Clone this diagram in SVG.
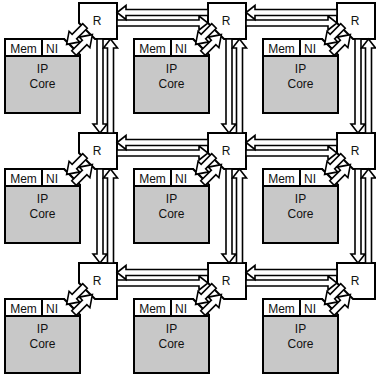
<svg xmlns="http://www.w3.org/2000/svg" xmlns:xlink="http://www.w3.org/1999/xlink" width="376" height="377" viewBox="0 0 376 377">
  <style>
    .router { fill: #fff; stroke: #000; stroke-width: 2; }
    .core { fill: #c8c8c8; stroke: #000; stroke-width: 2; }
    .hdr { fill: #fff; stroke: #000; stroke-width: 2; }
    .lbl { font-family: "Liberation Sans", Arial, sans-serif; font-size: 12px; fill: #111; }
    .mid { text-anchor: middle; }
    #links use { fill: #fff; stroke: #000; stroke-width: 1.6; stroke-linejoin: miter; }
  </style>
  <defs>
    <!-- hollow block arrows pointing along +x -->
    <path id="a91" d="M0,-3 H82 V-7 L91,0 L82,7 V3 H0 Z"/>
    <path id="a94" d="M0,-3 H85 V-7 L94,0 L85,7 V3 H0 Z"/>
    <path id="a26" d="M0,-3.2 H15 V-7.5 L26,0 L15,7.5 V3.2 H0 Z"/>
    <!-- router box with cut lower-left corner -->
    <path id="rbox" d="M0,0 H38 V36 H16 L0,20 Z"/>
    <!-- IP core tile: header strip with cut upper-right corner -->
    <g id="tile">
      <path class="core" d="M0,0 H59 L75,16 V74 H0 Z"/>
      <path class="hdr" d="M0,0 H59 L75,16 V17 H0 Z"/>
      <line x1="37" y1="0" x2="37" y2="17" stroke="#000" stroke-width="2"/>
      <text class="lbl mid" x="18.5" y="14">Mem</text>
      <text class="lbl" x="41" y="14">NI</text>
      <text class="lbl mid" x="37.5" y="34">IP</text>
      <text class="lbl mid" x="37.5" y="49">Core</text>
    </g>
  </defs>

  <!-- routers -->
  <g id="router-1-1"><use xlink:href="#rbox" class="router" x="79" y="3"/><text class="lbl mid" x="97" y="25">R</text></g>
  <g id="router-1-2"><use xlink:href="#rbox" class="router" x="208" y="3"/><text class="lbl mid" x="226" y="25">R</text></g>
  <g id="router-1-3"><use xlink:href="#rbox" class="router" x="337" y="3"/><text class="lbl mid" x="355" y="25">R</text></g>
  <g id="router-2-1"><use xlink:href="#rbox" class="router" x="79" y="133"/><text class="lbl mid" x="97" y="155">R</text></g>
  <g id="router-2-2"><use xlink:href="#rbox" class="router" x="208" y="133"/><text class="lbl mid" x="226" y="155">R</text></g>
  <g id="router-2-3"><use xlink:href="#rbox" class="router" x="337" y="133"/><text class="lbl mid" x="355" y="155">R</text></g>
  <g id="router-3-1"><use xlink:href="#rbox" class="router" x="79" y="263"/><text class="lbl mid" x="97" y="285">R</text></g>
  <g id="router-3-2"><use xlink:href="#rbox" class="router" x="208" y="263"/><text class="lbl mid" x="226" y="285">R</text></g>
  <g id="router-3-3"><use xlink:href="#rbox" class="router" x="337" y="263"/><text class="lbl mid" x="355" y="285">R</text></g>

  <!-- IP cores with memory and network interface -->
  <g id="core-1-1"><use xlink:href="#tile" x="5" y="39"/></g>
  <g id="core-1-2"><use xlink:href="#tile" x="134" y="39"/></g>
  <g id="core-1-3"><use xlink:href="#tile" x="263" y="39"/></g>
  <g id="core-2-1"><use xlink:href="#tile" x="5" y="169"/></g>
  <g id="core-2-2"><use xlink:href="#tile" x="134" y="169"/></g>
  <g id="core-2-3"><use xlink:href="#tile" x="263" y="169"/></g>
  <g id="core-3-1"><use xlink:href="#tile" x="5" y="299"/></g>
  <g id="core-3-2"><use xlink:href="#tile" x="134" y="299"/></g>
  <g id="core-3-3"><use xlink:href="#tile" x="263" y="299"/></g>

  <g id="links">
    <!-- row 1 horizontal -->
    <use xlink:href="#a91" transform="translate(117,23)"/>
    <use xlink:href="#a91" transform="translate(208,12.5) rotate(180)"/>
    <use xlink:href="#a91" transform="translate(246,23)"/>
    <use xlink:href="#a91" transform="translate(337,12.5) rotate(180)"/>
    <!-- row 2 horizontal -->
    <use xlink:href="#a91" transform="translate(117,153)"/>
    <use xlink:href="#a91" transform="translate(208,142.5) rotate(180)"/>
    <use xlink:href="#a91" transform="translate(246,153)"/>
    <use xlink:href="#a91" transform="translate(337,142.5) rotate(180)"/>
    <!-- row 3 horizontal -->
    <use xlink:href="#a91" transform="translate(117,283)"/>
    <use xlink:href="#a91" transform="translate(208,272.5) rotate(180)"/>
    <use xlink:href="#a91" transform="translate(246,283)"/>
    <use xlink:href="#a91" transform="translate(337,272.5) rotate(180)"/>
    <!-- column verticals, rows 1-2 -->
    <use xlink:href="#a94" transform="translate(100,39) rotate(90)"/>
    <use xlink:href="#a94" transform="translate(110.5,133) rotate(-90)"/>
    <use xlink:href="#a94" transform="translate(229,39) rotate(90)"/>
    <use xlink:href="#a94" transform="translate(239.5,133) rotate(-90)"/>
    <use xlink:href="#a94" transform="translate(358,39) rotate(90)"/>
    <use xlink:href="#a94" transform="translate(368.5,133) rotate(-90)"/>
    <!-- column verticals, rows 2-3 -->
    <use xlink:href="#a94" transform="translate(100,169) rotate(90)"/>
    <use xlink:href="#a94" transform="translate(110.5,263) rotate(-90)"/>
    <use xlink:href="#a94" transform="translate(229,169) rotate(90)"/>
    <use xlink:href="#a94" transform="translate(239.5,263) rotate(-90)"/>
    <use xlink:href="#a94" transform="translate(358,169) rotate(90)"/>
    <use xlink:href="#a94" transform="translate(368.5,263) rotate(-90)"/>
    <!-- router to network interface, both ways -->
    <use xlink:href="#a26" transform="translate(85,26) rotate(135)"/>
    <use xlink:href="#a26" transform="translate(74,53) rotate(-45)"/>
    <use xlink:href="#a26" transform="translate(214,26) rotate(135)"/>
    <use xlink:href="#a26" transform="translate(203,53) rotate(-45)"/>
    <use xlink:href="#a26" transform="translate(343,26) rotate(135)"/>
    <use xlink:href="#a26" transform="translate(332,53) rotate(-45)"/>
    <use xlink:href="#a26" transform="translate(85,156) rotate(135)"/>
    <use xlink:href="#a26" transform="translate(74,183) rotate(-45)"/>
    <use xlink:href="#a26" transform="translate(214,156) rotate(135)"/>
    <use xlink:href="#a26" transform="translate(203,183) rotate(-45)"/>
    <use xlink:href="#a26" transform="translate(343,156) rotate(135)"/>
    <use xlink:href="#a26" transform="translate(332,183) rotate(-45)"/>
    <use xlink:href="#a26" transform="translate(85,286) rotate(135)"/>
    <use xlink:href="#a26" transform="translate(74,313) rotate(-45)"/>
    <use xlink:href="#a26" transform="translate(214,286) rotate(135)"/>
    <use xlink:href="#a26" transform="translate(203,313) rotate(-45)"/>
    <use xlink:href="#a26" transform="translate(343,286) rotate(135)"/>
    <use xlink:href="#a26" transform="translate(332,313) rotate(-45)"/>
  </g>
</svg>
